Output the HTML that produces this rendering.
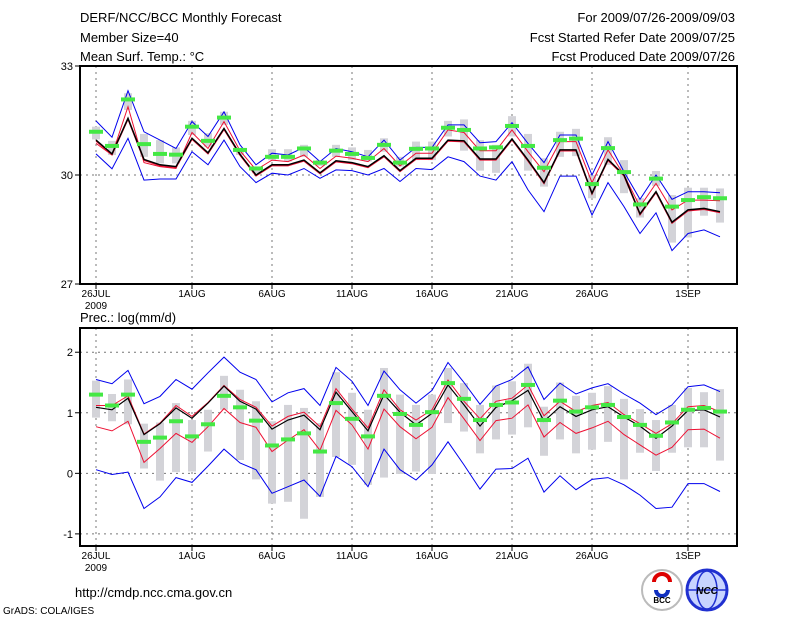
<!DOCTYPE html>
<html><head><meta charset="utf-8">
<style>
html,body{margin:0;padding:0;background:#fff;}
svg{display:block;}
text{font-family:"Liberation Sans",sans-serif;fill:#000;}
</style></head>
<body>
<svg id="chart" width="800" height="618" viewBox="0 0 800 618" xmlns="http://www.w3.org/2000/svg">
<text x="80" y="22" font-size="13">DERF/NCC/BCC Monthly Forecast</text>
<text x="80" y="42" font-size="13">Member Size=40</text>
<text x="80" y="61" font-size="13">Mean Surf. Temp.: °C</text>
<text x="735" y="22" font-size="13" text-anchor="end">For 2009/07/26-2009/09/03</text>
<text x="735" y="42" font-size="13" text-anchor="end">Fcst Started Refer Date 2009/07/25</text>
<text x="735" y="61" font-size="13" text-anchor="end">Fcst Produced Date 2009/07/26</text>
<text x="80" y="322" font-size="13">Prec.: log(mm/d)</text>
<text x="75" y="597" font-size="13">http://cmdp.ncc.cma.gov.cn</text>
<text x="3" y="614" font-size="10">GrADS: COLA/IGES</text>
<g>
<circle cx="662" cy="590" r="20" fill="#fff" stroke="#bbb" stroke-width="2"/>
<path d="M654 582 a8 8 0 1 1 16 0" fill="none" stroke="#d00" stroke-width="4"/>
<path d="M656 590 a6 6 0 0 0 12 0" fill="none" stroke="#1030c0" stroke-width="4"/>
<text x="662" y="603" font-size="8" text-anchor="middle" font-weight="bold">BCC</text>
</g>
<g>
<circle cx="707" cy="590" r="20" fill="#c8d4ff" stroke="#2030d0" stroke-width="3"/>
<ellipse cx="707" cy="590" rx="10" ry="19" fill="none" stroke="#2030d0" stroke-width="1.5"/>
<line x1="688" y1="590" x2="726" y2="590" stroke="#2030d0" stroke-width="1.5"/>
<text x="707" y="594" font-size="10" text-anchor="middle" font-weight="bold" font-style="italic" fill="#1020c0">NCC</text>
</g>
<g id="plots"></g>
</svg>
<script>
// ---- data: temperature panel ----
const days = ["26JUL","1AUG","6AUG","11AUG","16AUG","21AUG","26AUG","1SEP"];
const dayIndex = [0,6,11,16,21,26,31,37];
const tTop   = [31.49,31.04,32.32,31.19,30.96,30.73,31.47,31.06,31.74,30.83,30.28,30.60,30.55,30.76,30.37,30.73,30.64,30.50,30.96,30.41,30.76,30.76,31.38,31.38,30.89,30.92,31.44,30.87,30.34,31.10,31.10,30.00,30.92,30.09,29.33,30.00,29.33,29.54,29.54,29.51];
const tRed   = [30.87,30.55,31.88,30.34,30.23,30.18,31.17,30.73,31.47,30.67,30.14,30.41,30.37,30.55,30.18,30.52,30.46,30.37,30.73,30.25,30.60,30.60,31.24,31.17,30.67,30.67,31.24,30.64,30.09,30.92,30.92,29.79,30.69,30.00,29.13,29.77,29.04,29.31,29.31,29.29];
const tMean  = [30.96,30.58,31.56,30.43,30.28,30.23,31.01,30.61,31.28,30.57,30.00,30.28,30.28,30.41,30.06,30.39,30.34,30.23,30.53,30.12,30.46,30.46,30.96,30.94,30.44,30.44,30.99,30.41,29.79,30.69,30.69,29.50,30.43,30.00,28.93,29.54,28.70,29.04,29.08,28.99];
const tBot   = [30.58,30.17,31.01,29.86,29.89,29.89,30.64,30.28,30.96,30.23,29.79,30.05,30.00,30.18,29.91,30.14,30.12,30.00,30.18,29.82,30.18,30.15,30.50,30.37,29.97,29.86,30.37,29.59,28.99,29.97,29.97,28.90,29.79,29.13,28.39,28.96,27.92,28.39,28.49,28.30];
const tGreen = [31.19,30.80,32.08,30.85,30.58,30.56,31.33,30.94,31.58,30.69,30.18,30.50,30.50,30.73,30.34,30.67,30.58,30.47,30.83,30.34,30.72,30.73,31.30,31.24,30.73,30.76,31.35,30.80,30.20,30.96,31.00,29.75,30.74,30.08,29.19,29.90,29.13,29.31,29.39,29.36];
const tBoxHi = [31.33,30.94,32.25,31.13,30.96,30.76,31.49,31.15,31.74,30.71,30.23,30.71,30.71,30.83,30.41,30.83,30.76,30.69,31.01,30.50,30.92,30.92,31.49,31.53,30.96,30.83,31.62,31.13,30.46,31.19,31.27,30.00,31.04,30.41,29.36,30.11,29.45,29.65,29.65,29.63];
const tBoxLo = [30.98,30.55,31.79,30.50,30.32,30.32,31.10,30.78,31.38,30.55,30.05,30.41,30.37,30.50,30.25,30.50,30.41,30.37,30.64,30.23,30.41,30.41,31.06,30.67,30.12,30.06,31.06,30.12,29.68,30.50,30.52,29.36,30.28,29.50,28.83,29.70,28.14,28.28,28.88,28.69];
const tTicks = [33,30,27];
// ---- data: precipitation panel ----
const pTop   = [1.55,1.48,1.70,1.15,1.27,1.55,1.39,1.66,1.92,1.67,1.55,1.18,1.33,1.40,1.12,1.75,1.52,1.12,1.69,1.38,1.16,1.37,1.83,1.50,1.14,1.44,1.55,1.76,1.22,1.49,1.31,1.41,1.48,1.31,1.16,0.97,1.13,1.43,1.46,1.35];
const pRed1  = [1.12,1.12,1.28,0.65,0.83,1.12,0.94,1.17,1.45,1.22,1.09,0.78,0.94,1.01,0.77,1.40,1.06,0.75,1.38,1.05,0.88,1.05,1.54,1.19,0.90,1.19,1.24,1.46,0.95,1.19,1.02,1.12,1.17,0.97,0.82,0.66,0.82,1.10,1.12,1.02];
const pMean  = [1.09,1.05,1.24,0.64,0.82,1.08,0.91,1.16,1.44,1.19,1.06,0.73,0.88,0.96,0.72,1.34,1.02,0.70,1.30,1.01,0.80,0.99,1.46,1.13,0.78,1.09,1.20,1.37,0.86,1.10,0.94,1.05,1.10,0.93,0.78,0.58,0.78,1.04,1.05,0.93];
const pRed2  = [0.77,0.70,0.86,0.18,0.41,0.66,0.51,0.77,1.07,0.84,0.76,0.36,0.55,0.72,0.38,1.04,0.80,0.40,1.06,0.77,0.57,0.76,1.25,0.90,0.54,0.87,0.91,1.13,0.60,0.84,0.66,0.75,0.86,0.64,0.47,0.30,0.43,0.72,0.73,0.58];
const pBot   = [0.06,-0.02,0.02,-0.58,-0.39,-0.07,-0.15,0.12,0.40,0.17,0.06,-0.33,-0.22,-0.11,-0.38,0.28,0.11,-0.22,0.40,0.06,-0.11,0.14,0.52,0.14,-0.26,0.07,0.08,0.25,-0.31,-0.04,-0.27,-0.10,-0.07,-0.19,-0.36,-0.58,-0.56,-0.17,-0.17,-0.30];
const pGreen = [1.30,1.12,1.30,0.52,0.59,0.86,0.61,0.81,1.28,1.09,0.87,0.46,0.56,0.66,0.36,1.16,0.90,0.61,1.28,0.98,0.80,1.01,1.49,1.23,0.88,1.13,1.17,1.46,0.88,1.20,1.02,1.09,1.13,0.93,0.80,0.62,0.84,1.05,1.08,1.02];
const pBoxHi = [1.53,1.31,1.55,0.82,0.84,1.16,0.88,1.05,1.61,1.38,1.19,0.86,1.13,1.08,0.83,1.67,1.33,1.05,1.74,1.30,1.13,1.30,1.74,1.49,1.13,1.45,1.52,1.81,1.10,1.50,1.28,1.33,1.44,1.23,1.06,0.88,1.13,1.41,1.34,1.39];
const pBoxLo = [0.92,0.86,0.81,0.08,-0.12,0.02,0.03,0.36,1.05,0.22,-0.10,-0.50,-0.47,-0.75,-0.39,0.27,0.14,-0.19,-0.07,-0.01,0.03,-0.01,0.83,0.69,0.33,0.56,0.64,0.76,0.29,0.56,0.33,0.39,0.52,-0.10,0.34,0.04,0.34,0.43,0.43,0.21];
const pTicks = [2,1,0,-1];

const NS = "http://www.w3.org/2000/svg";
const root = document.getElementById("plots");
const X0 = 80, X1 = 737;
function xPos(i){ return 96 + 16*i; }
function mk(tag, attrs, parent){
  const e = document.createElementNS(NS, tag);
  for (const k in attrs) e.setAttribute(k, attrs[k]);
  (parent||root).appendChild(e);
  return e;
}
function panel(name, top, bottom, vmin, vmax, ticks, gridVals, series, boxHi, boxLo, green, showDates){
  const g = mk("g", {});
  
  
  const yPos = v => bottom - (v - vmin) / (vmax - vmin) * (bottom - top);
  // grid
  gridVals.forEach(v => {
    const l = mk("line", {x1:X0, x2:X1, y1:yPos(v), y2:yPos(v), stroke:"#777", "stroke-dasharray":"2,4", "stroke-width":1}, g);
    
    
  });
  dayIndex.forEach(d => {
    const x = xPos(d);
    const l = mk("line", {x1:x, x2:x, y1:top, y2:bottom, stroke:"#777", "stroke-dasharray":"2,4", "stroke-width":1}, g);
    
    
  });
  // boxes
  boxHi.forEach((hi, i) => {
    const lo = boxLo[i];
    const r = mk("rect", {x:xPos(i)-4, y:yPos(hi), width:8, height:Math.max(1, yPos(lo)-yPos(hi)), fill:"#d3d3d8"}, g);
    
    
  });
  // lines
  series.forEach(s => {
    const pts = s.vals.map((v,i) => xPos(i)+","+yPos(v).toFixed(1)).join(" ");
    const p = mk("polyline", {points:pts, fill:"none", stroke:s.color, "stroke-width":s.w, transform:s.dy?("translate(0,"+s.dy+")"):""}, g);
    
    
  });
  // green markers
  green.forEach((v, i) => {
    const r = mk("rect", {x:xPos(i)-7, y:yPos(v)-2, width:14, height:4, fill:"#44e844"}, g);
    
    
  });
  // frame
  const f = mk("rect", {x:X0, y:top, width:X1-X0, height:bottom-top, fill:"none", stroke:"#000", "stroke-width":2}, g);
  
  
  // y ticks
  ticks.forEach(v => {
    const y = yPos(v);
    mk("line", {x1:X0-5, x2:X0, y1:y, y2:y, stroke:"#000"}, g);
    const t = mk("text", {x:X0-7, y:y+4, "font-size":11, "text-anchor":"end"}, g);
    t.textContent = v;
    
    
  });
  // x ticks
  dayIndex.forEach((d, k) => {
    const x = xPos(d);
    mk("line", {x1:x, x2:x, y1:bottom, y2:bottom+5, stroke:"#000"}, g);
    const t = mk("text", {x:x, y:bottom+13, "font-size":10, "text-anchor":"middle"}, g);
    t.textContent = days[k];
    
    
  });
  const yr = mk("text", {x:96, y:bottom+25, "font-size":10, "text-anchor":"middle"}, g);
  yr.textContent = "2009";
  
  
}
panel("temperature-panel", 66, 284, 27, 33, tTicks, [30], [
  {name:"temp-upper-line", vals:tTop, color:"#0000ee", w:1},
  {name:"temp-lower-line", vals:tBot, color:"#0000ee", w:1},
  {name:"temp-red-line", vals:tRed, color:"#ee1133", w:1},
  {name:"temp-red-under-line", vals:tMean, color:"#ee1133", w:1.2, dy:1},
  {name:"temp-mean-line", vals:tMean, color:"#000", w:1.5}
], tBoxHi, tBoxLo, tGreen);
panel("precip-panel", 328, 546, -1.2, 2.4, pTicks, [2,1,0,-1], [
  {name:"precip-upper-line", vals:pTop, color:"#0000ee", w:1},
  {name:"precip-lower-line", vals:pBot, color:"#0000ee", w:1},
  {name:"precip-red-line-low", vals:pRed2, color:"#ee1133", w:1},
  {name:"precip-red-line-high", vals:pRed1, color:"#ee1133", w:1},
  {name:"precip-mean-line", vals:pMean, color:"#000", w:1.2}
], pBoxHi, pBoxLo, pGreen);
</script>
</body></html>
